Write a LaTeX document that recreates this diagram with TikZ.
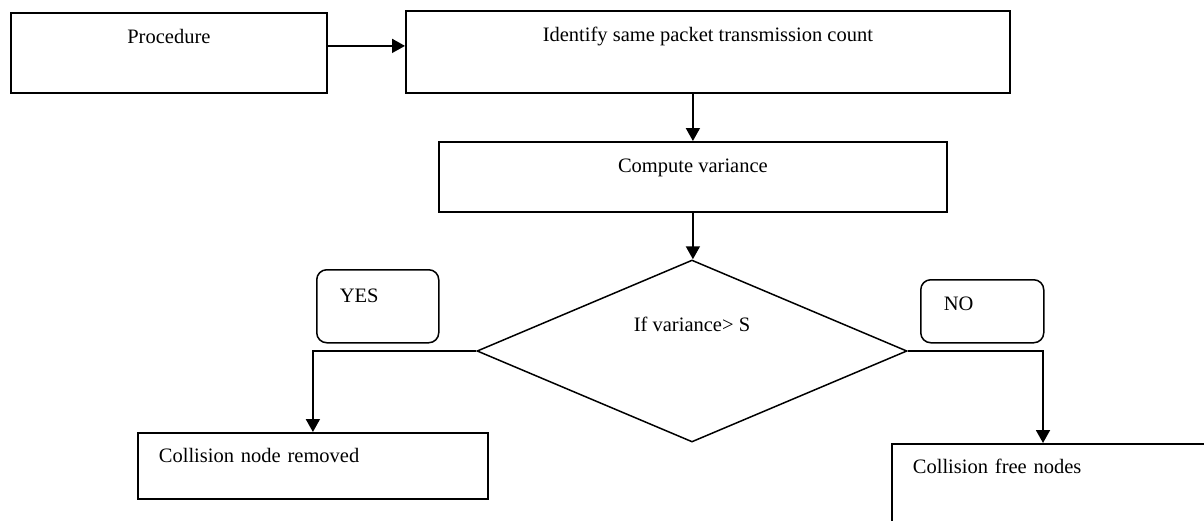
\documentclass[tikz,border=0pt]{standalone}
\usepackage{fontspec}
\setmainfont{Liberation Serif}
\usetikzlibrary{arrows.meta, positioning, shapes.geometric}

\begin{document}
\begin{tikzpicture}[x=1pt, y=-1pt,
  every node/.style={font=\fontsize{20.5}{24}\selectfont},
  stepbox/.style={draw, line width=1.8pt, rectangle, inner ysep=0pt, anchor=north west},
  choice/.style={draw, line width=1.5pt, rounded corners=10pt, inner ysep=0pt, inner xsep=23pt, align=left, anchor=north west},
  flow/.style={line width=1.8pt, -{Triangle[length=13pt, width=14pt]}}]
  \useasboundingbox (0,0) rectangle (1204,520);
  \clip (0,0) rectangle (1204,520);
  % main steps
  \node[stepbox, minimum width=316pt, text height=31pt, text depth=49pt] (proc) at (10,12) {Procedure};
  \node[stepbox, minimum width=604pt, text height=31pt, text depth=51pt] (ident) at (405,10) {Identify same packet transmission count};
  \node[stepbox, minimum width=508pt, text height=31pt, text depth=39pt] (comp) at (438,141) {Compute variance};
  % decision
  \node[draw, diamond, line width=1.5pt, minimum width=430pt, minimum height=182pt, aspect=2.36, inner sep=0pt, text height=14pt, text depth=54pt] (dec) at (692,351) {If variance> S};
  \node[choice, text width=76pt, text height=33pt, text depth=40pt] (yes) at (316,269) {YES};
  \node[choice, text width=77pt, text height=31pt, text depth=32pt] (no) at (920,279) {NO};
  % outcomes
  \node[stepbox, text width=308pt, inner xsep=21pt, align=left, text height=30pt, text depth=36pt] (removed) at (137,432) {Collision node removed};
  \node[stepbox, text width=290pt, inner xsep=21pt, align=left, text height=30pt, text depth=70pt] (free) at (891,443) {Collision free nodes};
  % arrows
  \draw[flow] ([yshift=7pt]proc.east) -- ([yshift=7pt]proc.east -| ident.west);
  \draw[flow] (comp.north |- ident.south) -- (comp.north);
  \draw[flow] (comp.south) -- (comp.south |- dec.north);
  \draw[flow] (dec.west) -| (removed.north);
  \draw[flow] (dec.east) -| ([xshift=152pt]free.north west);
\end{tikzpicture}
\end{document}
